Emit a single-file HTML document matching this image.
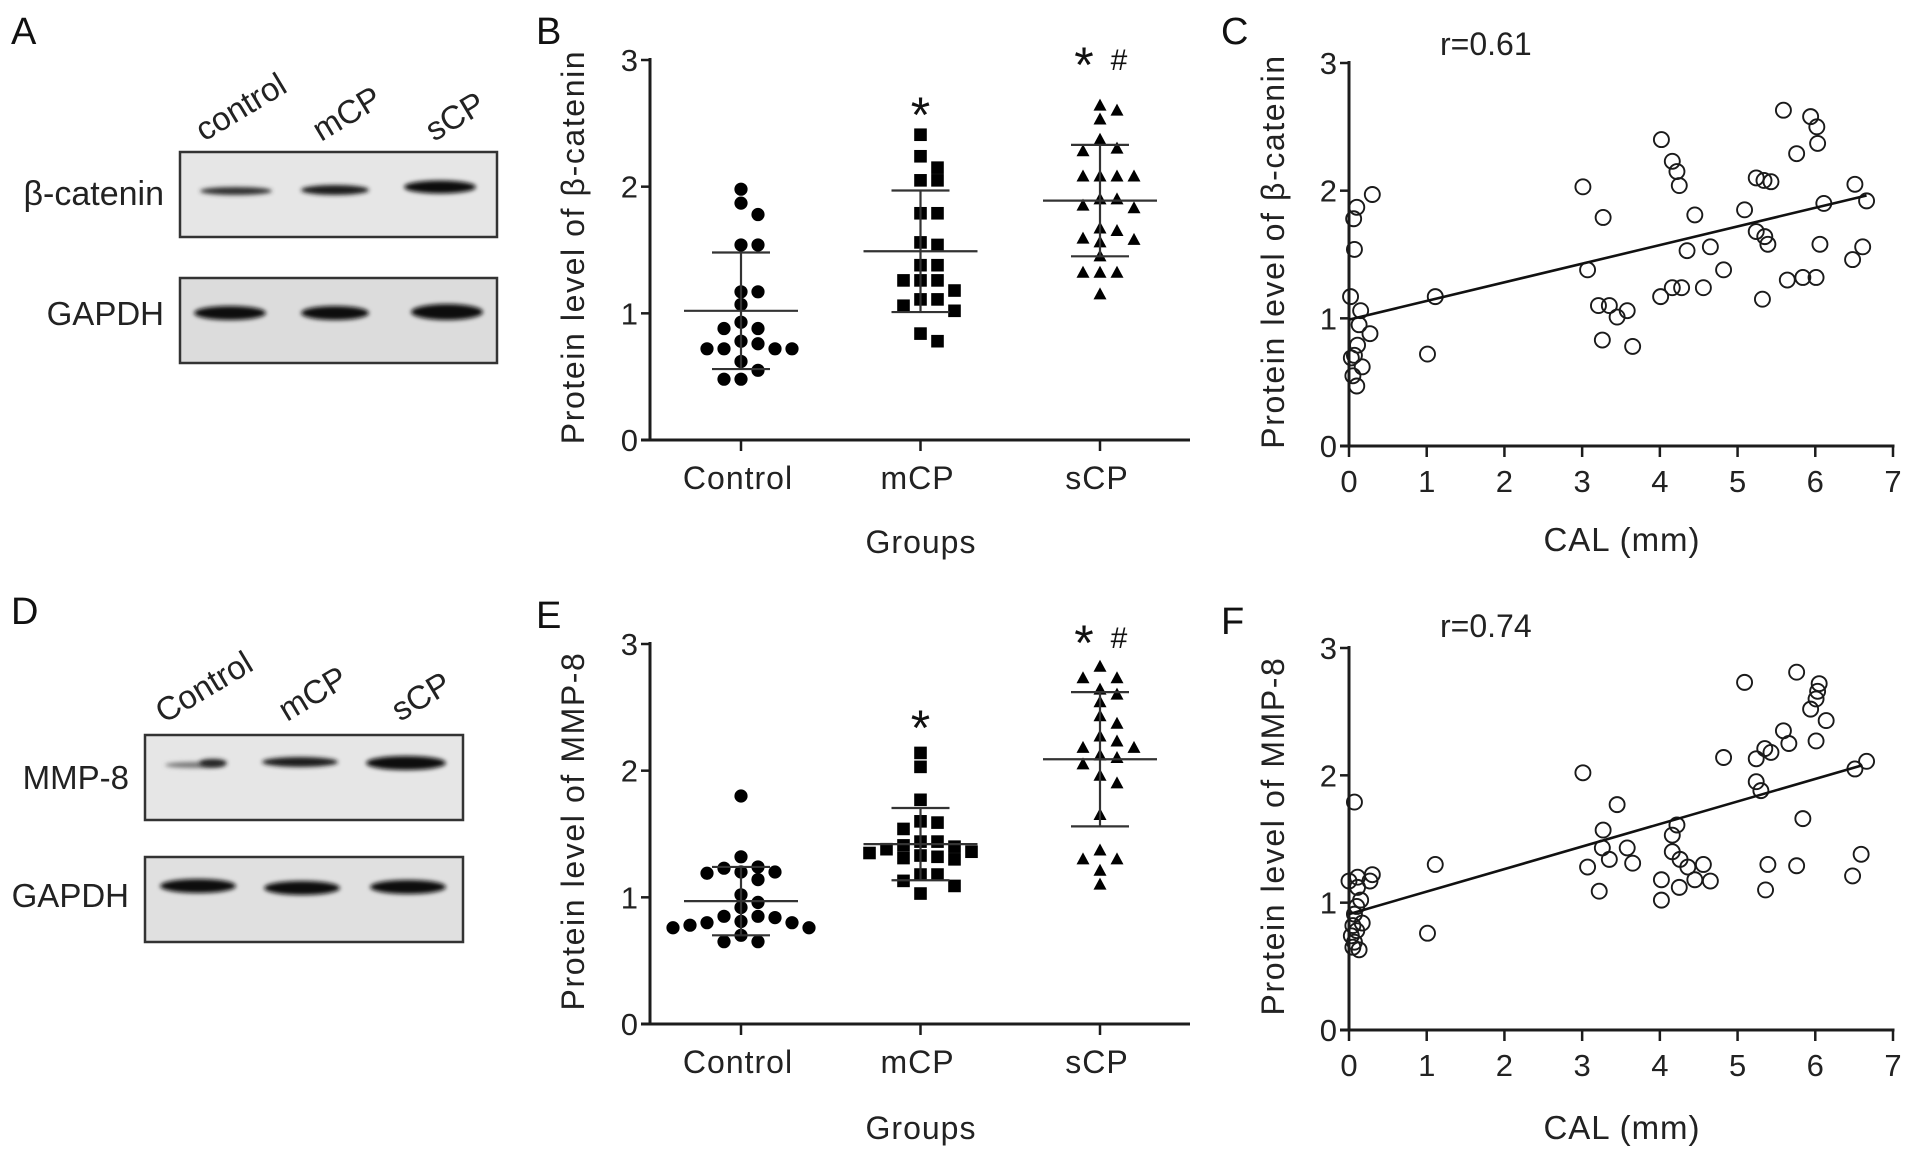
<!DOCTYPE html>
<html><head><meta charset="utf-8">
<style>
html,body{margin:0;padding:0;background:#fff;}
svg{display:block;font-family:"Liberation Sans",Arial,sans-serif;}
</style></head>
<body>
<svg id="fig" width="1913" height="1156" viewBox="0 0 1913 1156" xmlns="http://www.w3.org/2000/svg">
<defs>
  <filter id="blur2" x="-20%" y="-100%" width="140%" height="300%"><feGaussianBlur stdDeviation="2.2"/></filter>
</defs>

<!-- Panel A -->
<g>
  <text x="11" y="44" font-size="38" fill="#111">A</text>
  <text transform="translate(204,142) rotate(-31)" font-size="33" fill="#222">control</text>
  <text transform="translate(321,142) rotate(-31)" font-size="33" fill="#222">mCP</text>
  <text transform="translate(434,142) rotate(-31)" font-size="33" fill="#222">sCP</text>
  <text x="164" y="205" font-size="34" text-anchor="end" fill="#222">β-catenin</text>
  <text x="164" y="325" font-size="33" text-anchor="end" fill="#222">GAPDH</text>
  <g>
    <rect x="180" y="152" width="317" height="85" fill="#e6e6e6" stroke="#333" stroke-width="2.5"/>
    <ellipse cx="236" cy="191" rx="36" ry="4" fill="#333" filter="url(#blur2)"/>
    <ellipse cx="335" cy="190" rx="34" ry="5" fill="#1a1a1a" filter="url(#blur2)"/>
    <ellipse cx="440" cy="187" rx="36" ry="6.5" fill="#0a0a0a" filter="url(#blur2)"/>
  </g>
  <g>
    <rect x="180" y="278" width="317" height="85" fill="#dcdcdc" stroke="#333" stroke-width="2.5"/>
    <ellipse cx="230" cy="313" rx="36" ry="7" fill="#111" filter="url(#blur2)"/>
    <ellipse cx="335" cy="313" rx="34" ry="7" fill="#111" filter="url(#blur2)"/>
    <ellipse cx="447" cy="312" rx="36" ry="8" fill="#0a0a0a" filter="url(#blur2)"/>
  </g>
</g>

<!-- Panel D -->
<g>
  <text x="11" y="624" font-size="38" fill="#111">D</text>
  <text transform="translate(164,724) rotate(-31)" font-size="33" fill="#222">Control</text>
  <text transform="translate(287,722) rotate(-31)" font-size="33" fill="#222">mCP</text>
  <text transform="translate(400,722) rotate(-31)" font-size="33" fill="#222">sCP</text>
  <text x="129" y="789" font-size="33" text-anchor="end" fill="#222">MMP-8</text>
  <text x="129" y="907" font-size="33" text-anchor="end" fill="#222">GAPDH</text>
  <g>
    <rect x="145" y="735" width="318" height="85" fill="#e6e6e6" stroke="#333" stroke-width="2.5"/>
    <ellipse cx="195" cy="765" rx="30" ry="3" fill="#777" filter="url(#blur2)"/>
    <ellipse cx="213" cy="763" rx="14" ry="4" fill="#222" filter="url(#blur2)"/>
    <ellipse cx="300" cy="762" rx="38" ry="5" fill="#1a1a1a" filter="url(#blur2)"/>
    <ellipse cx="406" cy="763" rx="40" ry="7" fill="#0a0a0a" filter="url(#blur2)"/>
  </g>
  <g>
    <rect x="145" y="857" width="318" height="85" fill="#e0e0e0" stroke="#333" stroke-width="2.5"/>
    <ellipse cx="198" cy="886" rx="38" ry="7" fill="#111" filter="url(#blur2)"/>
    <ellipse cx="302" cy="888" rx="38" ry="7" fill="#111" filter="url(#blur2)"/>
    <ellipse cx="408" cy="887" rx="38" ry="7" fill="#111" filter="url(#blur2)"/>
  </g>
</g>

<g id="charts"></g>
</svg>

<script>
// ---------- data ----------
const groupCats = ['Control', 'mCP', 'sCP'];
const yTicks = [0, 1, 2, 3];
const xTicksCAL = [0, 1, 2, 3, 4, 5, 6, 7];

const bControl = [1.98,1.87,1.78,1.54,1.54,1.17,1.17,1.07,0.93,0.88,0.88,0.78,0.76,0.72,0.72,0.72,0.72,0.62,0.55,0.48,0.48];
const bMCP = [2.41,2.24,2.15,2.05,2.05,1.79,1.79,1.56,1.54,1.38,1.38,1.26,1.26,1.26,1.18,1.11,1.11,1.06,1.02,0.84,0.78];
const bSCP = [2.64,2.60,2.53,2.37,2.30,2.28,2.08,2.08,2.08,2.08,1.90,1.90,1.85,1.83,1.67,1.65,1.58,1.56,1.59,1.45,1.32,1.32,1.32,1.15];
const bMean = [1.02, 1.49, 1.89];
const bSD = [0.46, 0.48, 0.44];

const eControl = [1.80,1.32,1.24,1.20,1.20,1.19,1.23,1.14,1.02,0.96,0.92,0.85,0.85,0.84,0.81,0.80,0.80,0.78,0.76,0.76,0.70,0.65,0.65];
const eMCP = [2.14,2.03,1.77,1.60,1.59,1.54,1.44,1.44,1.40,1.38,1.35,1.33,1.31,1.30,1.32,1.36,1.41,1.18,1.18,1.13,1.09,1.03];
const eSCP = [2.82,2.73,2.73,2.64,2.60,2.54,2.43,2.37,2.27,2.23,2.18,2.18,2.12,2.10,2.05,1.96,1.90,1.65,1.37,1.30,1.30,1.21,1.10];
const eMean = [0.97, 1.42, 2.09];
const eSD = [0.27, 0.285, 0.53];

const cX = [0.30,0.10,0.06,0.07,0.02,0.15,0.27,0.13,0.11,0.07,0.03,0.17,0.05,0.10,1.01,1.11,3.01,3.07,3.27,3.21,3.35,3.45,3.58,3.26,3.65,4.02,4.16,4.22,4.25,4.45,4.35,4.65,4.82,4.01,4.16,4.28,4.56,5.09,5.24,5.34,5.43,5.24,5.35,5.39,5.32,5.59,5.76,5.94,6.02,6.03,6.11,6.06,5.64,5.84,6.01,6.51,6.66,6.61,6.48];
const cY = [1.97,1.87,1.78,1.54,1.17,1.06,0.88,0.95,0.79,0.71,0.69,0.62,0.55,0.47,0.72,1.17,2.03,1.38,1.79,1.10,1.10,1.01,1.06,0.83,0.78,2.40,2.23,2.15,2.04,1.81,1.53,1.56,1.38,1.17,1.24,1.24,1.24,1.85,2.10,2.08,2.07,1.68,1.64,1.58,1.15,2.63,2.29,2.58,2.50,2.37,1.90,1.58,1.30,1.32,1.32,2.05,1.92,1.56,1.46];
const cFit = [0.99, 0.146];
const cFitRange = [0, 6.66];
const cR = 'r=0.61';

const fX = [0.07,0.00,0.11,0.30,0.27,0.11,0.15,0.10,0.07,0.17,0.05,0.10,0.03,0.07,0.13,0.05,1.01,1.11,3.01,3.07,3.27,3.26,3.22,3.35,3.45,3.58,3.65,4.22,4.16,4.16,4.26,4.36,4.56,4.02,4.25,4.45,4.65,4.02,4.82,5.09,5.24,5.35,5.43,5.24,5.30,5.39,5.36,5.59,5.66,5.76,5.84,5.76,5.94,6.01,6.03,6.05,6.14,6.01,6.51,6.66,6.59,6.48];
const fY = [1.79,1.17,1.20,1.22,1.17,1.12,1.02,0.97,0.91,0.84,0.82,0.78,0.74,0.69,0.63,0.65,0.76,1.30,2.02,1.28,1.57,1.43,1.09,1.34,1.77,1.43,1.31,1.61,1.53,1.40,1.34,1.28,1.30,1.18,1.12,1.18,1.17,1.02,2.14,2.73,2.13,2.21,2.18,1.95,1.88,1.30,1.10,2.35,2.25,2.81,1.66,1.29,2.52,2.60,2.66,2.72,2.43,2.27,2.05,2.11,1.38,1.21];
const fFit = [0.91, 0.177];
const fFitRange = [0, 6.6];
const fR = 'r=0.74';

// ---------- drawing ----------
const NS = 'http://www.w3.org/2000/svg';
const root = document.getElementById('charts');
const INK = '#1c1c1c';
function mk(tag, attrs, parent) {
  const el = document.createElementNS(NS, tag);
  for (const k in attrs) el.setAttribute(k, attrs[k]);
  (parent || root).appendChild(el);
  return el;
}
function txt(s, attrs, parent) { const t = mk('text', attrs, parent); t.textContent = s; return t; }

function yAxis(g, x0, yTop, yBot, title, titleX, titleCY) {
  const yScale = v => yBot - (yBot - yTop) * v / 3;
  const ax = mk('line', {x1:x0, y1:yTop-2, x2:x0, y2:yBot+1.5, stroke:INK, 'stroke-width':3}, g);
  
  
  yTicks.forEach(v => {
    const y = yScale(v);
    const tk = mk('line', {x1:x0-9, y1:y, x2:x0, y2:y, stroke:INK, 'stroke-width':2.5}, g);
    
    
    const tl = txt(String(v), {x:x0-12, y:y+11, 'font-size':31, 'text-anchor':'end', fill:'#222'}, g);
    
    
  });
  const tt = txt(title, {transform:`translate(${titleX},${titleCY}) rotate(-90)`, 'font-size':32, 'text-anchor':'middle', fill:'#222', 'letter-spacing':'1.6'}, g);
  
  
  return yScale;
}

function marker(g, shape, cx, cy) {
  let m;
  if (shape === 'circle') m = mk('circle', {cx, cy, r:6.6, fill:'#000'}, g);
  else if (shape === 'square') m = mk('rect', {x:cx-6.3, y:cy-6.3, width:12.6, height:12.6, fill:'#000'}, g);
  else m = mk('polygon', {points:`${cx},${cy-7} ${cx-6.5},${cy+5} ${cx+6.5},${cy+5}`, fill:'#000'}, g);
  return m;
}

function swarm(values, yScale) {
  const placed = [];
  const order = values.map((v, i) => i).sort((a, b) => values[b] - values[a]);
  const offs = new Array(values.length);
  order.forEach(i => {
    const y = yScale(values[i]);
    for (let k = 0; k < 40; k++) {
      const o = (k % 2 ? 1 : -1) * Math.ceil(k / 2) * 8.5;
      if (placed.every(p => Math.abs(p[1] - y) >= 12 || Math.abs(p[0] - o) >= 17)) { offs[i] = o; placed.push([o, y]); break; }
    }
  });
  return offs;
}

function dotPlot(opts) {
  const g = mk('g', {});
  
  
  const lab = txt(opts.letter, {x:opts.letterX, y:opts.letterY, 'font-size':38, fill:'#111'}, g);
  
  
  const yScale = yAxis(g, opts.x0, opts.yTop, opts.yBot, opts.title, opts.x0 - 66, (opts.yTop + opts.yBot) / 2 - 3);
  const xAx = mk('line', {x1:opts.x0 - 9, y1:opts.yBot, x2:opts.xEnd, y2:opts.yBot, stroke:INK, 'stroke-width':3}, g);
  
  
  const catX = i => opts.x0 + 91 + i * 179.5;
  const shapes = ['circle', 'square', 'triangle'];
  opts.series.forEach((vals, i) => {
    const cx = catX(i);
    const tk = mk('line', {x1:cx, y1:opts.yBot, x2:cx, y2:opts.yBot + 11, stroke:INK, 'stroke-width':2.5}, g);
    
    
    const cl = txt(groupCats[i], {x:cx - 3, y:opts.catY, 'font-size':32, 'text-anchor':'middle', fill:'#222', 'letter-spacing':'1'}, g);
    
    
    const sg = mk('g', {}, g);
    
    
    const offs = swarm(vals, yScale);
    vals.forEach((v, j) => {
      const m = marker(sg, shapes[i], cx + offs[j], yScale(v));
      
      
    });
    const mean = opts.mean[i], sd = opts.sd[i];
    const eb = mk('g', {stroke:'#333', 'stroke-width':2.2, fill:'none'}, g);
    
    
    mk('line', {x1:cx - 57, y1:yScale(mean), x2:cx + 57, y2:yScale(mean)}, eb);
    mk('line', {x1:cx - 29, y1:yScale(mean + sd), x2:cx + 29, y2:yScale(mean + sd)}, eb);
    mk('line', {x1:cx - 29, y1:yScale(mean - sd), x2:cx + 29, y2:yScale(mean - sd)}, eb);
    mk('line', {x1:cx, y1:yScale(mean + sd), x2:cx, y2:yScale(mean - sd)}, eb);
  });
  const s1 = txt('*', {x:catX(1), y:opts.star1Y, 'font-size':50, 'text-anchor':'middle', fill:'#111'}, g);
  
  
  const s2 = txt('*', {x:catX(2) - 16, y:opts.star2Y, 'font-size':50, 'text-anchor':'middle', fill:'#111'}, g);
  
  
  const h = txt('#', {x:catX(2) + 19, y:opts.star2Y - 12, 'font-size':30, 'text-anchor':'middle', fill:'#111'}, g);
  
  
  const gt = txt('Groups', {x:921, y:opts.groupsY, 'font-size':32, 'text-anchor':'middle', fill:'#222', 'letter-spacing':'1'}, g);
  
  
}

function scatter(opts) {
  const g = mk('g', {});
  
  
  const lab = txt(opts.letter, {x:1221, y:opts.letterY, 'font-size':38, fill:'#111'}, g);
  
  
  const x0 = 1349, x7 = 1893;
  const xScale = v => x0 + (x7 - x0) * v / 7;
  const yScale = yAxis(g, x0, opts.yTop, opts.yBot, opts.title, 1284, (opts.yTop + opts.yBot) / 2 - 3);
  const xAx = mk('line', {x1:x0 - 9, y1:opts.yBot, x2:x7 + 1.5, y2:opts.yBot, stroke:INK, 'stroke-width':3}, g);
  
  
  xTicksCAL.forEach(v => {
    const x = xScale(v);
    const tk = mk('line', {x1:x, y1:opts.yBot, x2:x, y2:opts.yBot + 11, stroke:INK, 'stroke-width':2.5}, g);
    
    
    const tl = txt(String(v), {x:x, y:opts.yBot + 46, 'font-size':31, 'text-anchor':'middle', fill:'#222'}, g);
    
    
  });
  const pg = mk('g', {}, g);
  
  
  opts.xs.forEach((xv, i) => {
    const c = mk('circle', {cx:xScale(xv), cy:yScale(opts.ys[i]), r:7.5, fill:'none', stroke:'#1a1a1a', 'stroke-width':1.9}, pg);
    
    
  });
  const [a, b] = opts.fit;
  const fl = mk('line', {x1:xScale(opts.range[0]), y1:yScale(a + b * opts.range[0]), x2:xScale(opts.range[1]), y2:yScale(a + b * opts.range[1]), stroke:'#111', 'stroke-width':2.6}, g);
  
  
  const rt = txt(opts.r, {x:1440, y:opts.rY, 'font-size':32, fill:'#222'}, g);
  
  
  const xt = txt('CAL (mm)', {x:1622, y:opts.calY, 'font-size':33, 'text-anchor':'middle', fill:'#222', 'letter-spacing':'1'}, g);
  
  
}

dotPlot({name:'panel-b-beta-catenin-dotplot', letter:'B', letterX:536, letterY:44, x0:650, yTop:60, yBot:440, xEnd:1190,
  title:'Protein level of β-catenin', series:[bControl, bMCP, bSCP], mean:bMean, sd:bSD,
  catY:489, groupsY:553, star1Y:132, star2Y:82});
dotPlot({name:'panel-e-mmp8-dotplot', letter:'E', letterX:536, letterY:628, x0:650, yTop:644, yBot:1024, xEnd:1190,
  title:'Protein level of MMP-8', series:[eControl, eMCP, eSCP], mean:eMean, sd:eSD,
  catY:1073, groupsY:1139, star1Y:745, star2Y:660});
scatter({name:'panel-c-beta-catenin-vs-cal', letter:'C', letterY:44, yTop:63, yBot:446, title:'Protein level of β-catenin',
  xs:cX, ys:cY, fit:cFit, range:cFitRange, r:cR, rY:55, calY:551});
scatter({name:'panel-f-mmp8-vs-cal', letter:'F', letterY:634, yTop:648, yBot:1030, title:'Protein level of MMP-8',
  xs:fX, ys:fY, fit:fFit, range:fFitRange, r:fR, rY:637, calY:1139});
</script>
</body></html>
